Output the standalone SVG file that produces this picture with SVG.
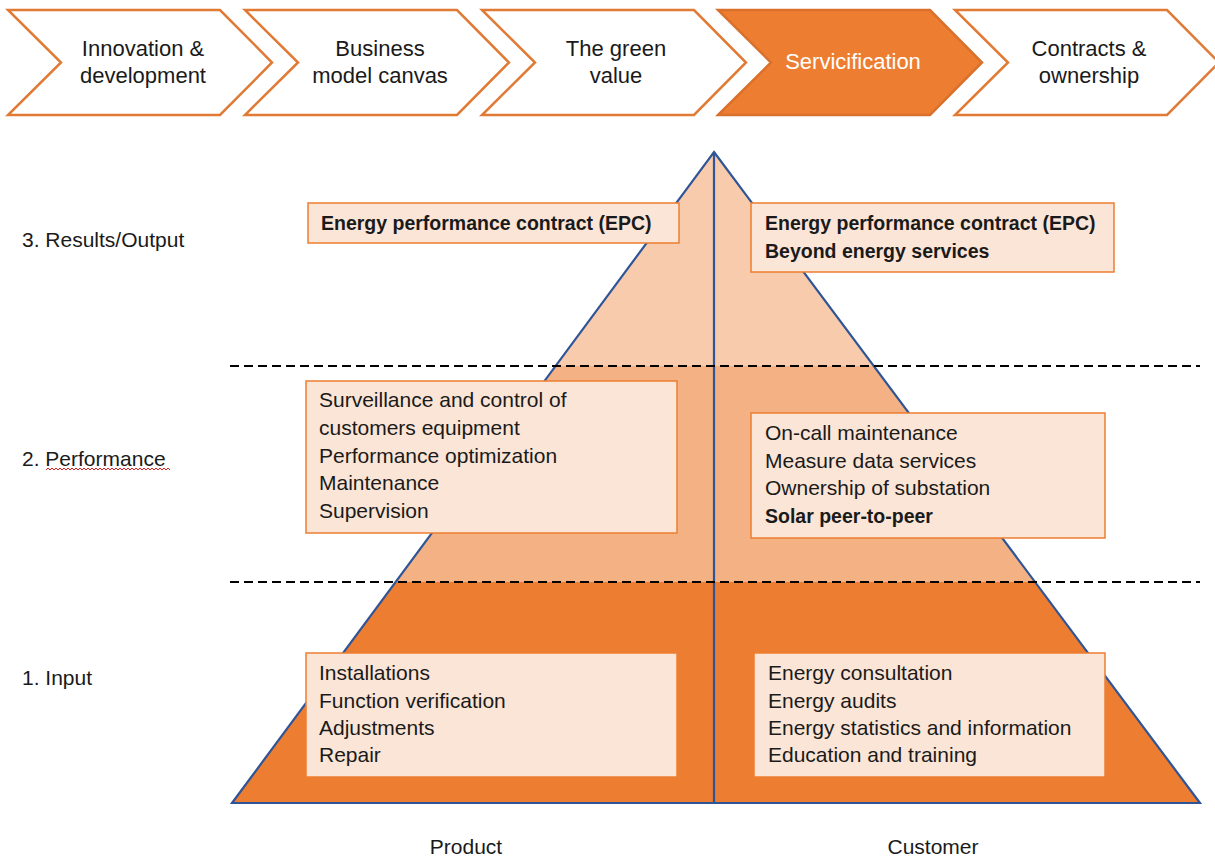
<svg xmlns="http://www.w3.org/2000/svg" width="1215" height="857" viewBox="0 0 1215 857">
<defs>
<style>
text{font-family:"Liberation Sans",Arial,sans-serif;fill:#1a1a1a}
.chev{fill:#ffffff;stroke:#E07A35;stroke-width:2.5;stroke-linejoin:miter}
.chevA{fill:#ED7D31;stroke:#D9712C;stroke-width:2.5}
.ct{font-size:22px;text-anchor:middle}
.ctw{font-size:22px;text-anchor:middle;fill:#ffffff}
.box{fill:#FBE5D6;stroke:#ED7D31;stroke-width:1.5}
.bt{font-size:21px}
.bb{font-size:19.5px;font-weight:bold}
.lbl{font-size:21px}
.dash{stroke:#000;stroke-width:2;stroke-dasharray:9 5;fill:none}
.edge{stroke:#2F5597;stroke-width:2.2;fill:none}
</style>
</defs>
<rect width="1215" height="857" fill="#ffffff"/>

<g id="chevrons">
<g id="chev-innovation">
<path class="chev" d="M8,10 H220 L272,62.5 L220,115 H8 L61,62.5 Z"/>
<text class="ct" x="143" y="56">Innovation &amp;</text>
<text class="ct" x="143" y="83">development</text>
</g>
<g id="chev-bmc">
<path class="chev" d="M245,10 H457 L509,62.5 L457,115 H245 L298,62.5 Z"/>
<text class="ct" x="380" y="56">Business</text>
<text class="ct" x="380" y="83">model canvas</text>
</g>
<g id="chev-green">
<path class="chev" d="M482,10 H694 L746,62.5 L694,115 H482 L535,62.5 Z"/>
<text class="ct" x="616" y="56">The green</text>
<text class="ct" x="616" y="83">value</text>
</g>
<g id="chev-servicification">
<path class="chevA" d="M718,10 H930 L982,62.5 L930,115 H718 L771,62.5 Z"/>
<text class="ctw" x="853" y="69">Servicification</text>
</g>
<g id="chev-contracts">
<path class="chev" d="M955,10 H1167 L1219,62.5 L1167,115 H955 L1008,62.5 Z"/>
<text class="ct" x="1089" y="56">Contracts &amp;</text>
<text class="ct" x="1089" y="83">ownership</text>
</g>
</g>

<g id="pyramid">
<polygon points="714,152 873.8,366 555.6,366" fill="#F8CBAD"/>
<polygon points="555.6,366 873.8,366 1035,582 395.6,582" fill="#F4B183"/>
<polygon points="395.6,582 1035,582 1200,803 232,803" fill="#ED7D31"/>
<polygon class="edge" points="714,152 1200,803 232,803"/>
<line class="edge" x1="714" y1="152" x2="714" y2="803"/>
</g>

<g id="connectors">
<line class="dash" x1="230" y1="366" x2="1200" y2="366"/>
<line class="dash" x1="230" y1="582" x2="1200" y2="582"/>
</g>

<g id="level-labels">
<text class="lbl" x="22" y="247">3. Results/Output</text>
<text class="lbl" x="22" y="466">2. Performance</text>
<path d="M46,470 l2,-2 l2,2 l2,-2 l2,2 l2,-2 l2,2 l2,-2 l2,2 l2,-2 l2,2 l2,-2 l2,2 l2,-2 l2,2 l2,-2 l2,2 l2,-2 l2,2 l2,-2 l2,2 l2,-2 l2,2 l2,-2 l2,2 l2,-2 l2,2 l2,-2 l2,2 l2,-2 l2,2 l2,-2 l2,2 l2,-2 l2,2 l2,-2 l2,2 l2,-2 l2,2 l2,-2 l2,2 l2,-2 l2,2 l2,-2 l2,2 l2,-2 l2,2 l2,-2 l2,2 l2,-2 l2,2 l2,-2 l2,2 l2,-2 l2,2 l2,-2 l2,2 l2,-2 l2,2 l2,-2 l2,2 l2,-2 l2,2" fill="none" stroke="#E02020" stroke-width="1"/>
<text class="lbl" x="22" y="685">1. Input</text>
</g>

<g id="box-results-product">
<rect class="box" x="308" y="203" width="371" height="40"/>
<text class="bb" x="321" y="230">Energy performance contract (EPC)</text>
</g>
<g id="box-results-customer">
<rect class="box" x="751" y="203" width="363" height="69"/>
<text class="bb" x="765" y="230">Energy performance contract (EPC)</text>
<text class="bb" x="765" y="258">Beyond energy services</text>
</g>
<g id="box-performance-product">
<rect class="box" x="306" y="381" width="371" height="152"/>
<text class="bt" x="319" y="407">Surveillance and control of</text>
<text class="bt" x="319" y="435">customers equipment</text>
<text class="bt" x="319" y="463">Performance optimization</text>
<text class="bt" x="319" y="490">Maintenance</text>
<text class="bt" x="319" y="518">Supervision</text>
</g>
<g id="box-performance-customer">
<rect class="box" x="751" y="413" width="354" height="125"/>
<text class="bt" x="765" y="440">On-call maintenance</text>
<text class="bt" x="765" y="468">Measure data services</text>
<text class="bt" x="765" y="495">Ownership of substation</text>
<text class="bb" x="765" y="523">Solar peer-to-peer</text>
</g>
<g id="box-input-product">
<rect class="box" x="306" y="653" width="371" height="124"/>
<text class="bt" x="319" y="680">Installations</text>
<text class="bt" x="319" y="708">Function verification</text>
<text class="bt" x="319" y="735">Adjustments</text>
<text class="bt" x="319" y="762">Repair</text>
</g>
<g id="box-input-customer">
<rect class="box" x="754" y="653" width="351" height="124"/>
<text class="bt" x="768" y="680">Energy consultation</text>
<text class="bt" x="768" y="708">Energy audits</text>
<text class="bt" x="768" y="735">Energy statistics and information</text>
<text class="bt" x="768" y="762">Education and training</text>
</g>

<g id="axis-labels">
<text class="lbl" x="466" y="854" text-anchor="middle">Product</text>
<text class="lbl" x="933" y="854" text-anchor="middle">Customer</text>
</g>
</svg>
